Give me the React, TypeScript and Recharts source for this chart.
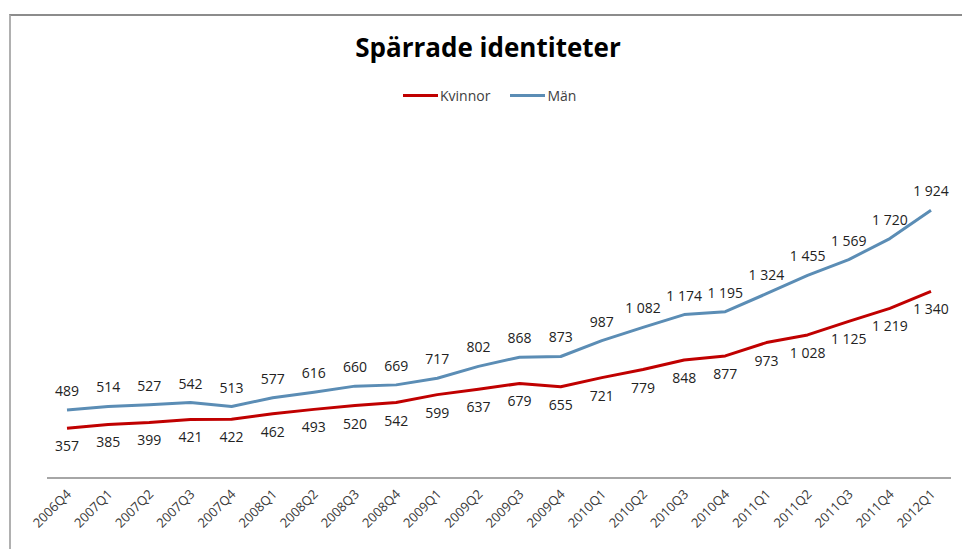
import { LineChart, Line, XAxis, YAxis, LabelList, Legend } from "recharts";

const categories = [
  "2006Q4", "2007Q1", "2007Q2", "2007Q3", "2007Q4", "2008Q1", "2008Q2", "2008Q3",
  "2008Q4", "2009Q1", "2009Q2", "2009Q3", "2009Q4", "2010Q1", "2010Q2", "2010Q3",
  "2010Q4", "2011Q1", "2011Q2", "2011Q3", "2011Q4", "2012Q1",
];
const kvinnor = [
  357, 385, 399, 421, 422, 462, 493, 520, 542, 599, 637, 679, 655, 721, 779, 848,
  877, 973, 1028, 1125, 1219, 1340,
];
const man = [
  489, 514, 527, 542, 513, 577, 616, 660, 669, 717, 802, 868, 873, 987, 1082, 1174,
  1195, 1324, 1455, 1569, 1720, 1924,
];

const data = categories.map((c, i) => ({ period: c, Kvinnor: kvinnor[i], Man: man[i] }));

const RED = "#C00000";
const BLUE = "#5B8DB5";
const FONT = "'Open Sans', 'Noto Sans', sans-serif";

// siffror med mellanslag som tusentalsavgränsare
const fmt = (v: number) => String(v).replace(/\B(?=(\d{3})+(?!\d))/g, " ");

function RotatedTick({ x, y, payload }: any) {
  return (
    <text
      x={x + 5}
      y={y + 9}
      transform={`rotate(-45, ${x + 5}, ${y + 9})`}
      textAnchor="end"
      fontSize={13}
      fill="#3a3a3a"
      fontFamily={FONT}
    >
      {payload.value}
    </text>
  );
}

function makeLabel(dy: number) {
  return ({ x, y, value }: any) => (
    <text
      x={x}
      y={y + dy}
      textAnchor="middle"
      fontSize={14}
      fill="#222"
      fontFamily={FONT}
    >
      {fmt(value)}
    </text>
  );
}

function LegendBox() {
  return (
    <div style={{ display: "flex", gap: 20, fontFamily: FONT, fontSize: 14, color: "#404040" }}>
      <span style={{ display: "flex", alignItems: "center" }}>
        <span style={{ width: 35, height: 3, background: RED, marginRight: 2 }}></span>Kvinnor
      </span>
      <span style={{ display: "flex", alignItems: "center" }}>
        <span style={{ width: 35, height: 3, background: BLUE, marginRight: 2 }}></span>Män
      </span>
    </div>
  );
}

export default function App() {
  return (
    <div style={{ position: "absolute", left: 0, top: 0, width: 962, height: 549, background: "#fff" }}>
      {/* ram uppe och till vänster */}
      <div
        style={{
          position: "absolute",
          left: 9,
          top: 14,
          right: 0,
          bottom: 0,
          borderTop: "2px solid #8c8c8c",
          borderLeft: "2px solid #b0b0b0",
        }}
      ></div>
      <div
        style={{
          position: "absolute",
          top: 29,
          left: 0,
          width: 976,
          textAlign: "center",
          fontFamily: FONT,
          fontWeight: 700,
          fontSize: 26,
          color: "#000",
        }}
      >
        Spärrade identiteter
      </div>
      <LineChart width={962} height={549} data={data} margin={{ top: 111, left: 47, right: 11, bottom: 11 }}>
        <XAxis
          dataKey="period"
          height={60}
          interval={0}
          padding={{ left: 20, right: 20 }}
          tickLine={false}
          axisLine={{ stroke: "#888", strokeWidth: 1.5 }}
          tick={<RotatedTick />}
        />
        <YAxis hide domain={[0, 2500]} />
        <Legend
          verticalAlign="top"
          content={<LegendBox />}
          wrapperStyle={{ top: 86, left: 403, width: "auto" }}
        />
        <Line
          type="linear"
          dataKey="Kvinnor"
          name="Kvinnor"
          stroke={RED}
          strokeWidth={3}
          strokeLinejoin="round"
          dot={false}
          isAnimationActive={false}
        >
          <LabelList dataKey="Kvinnor" content={makeLabel(23)} />
        </Line>
        <Line
          type="linear"
          dataKey="Man"
          name="Män"
          stroke={BLUE}
          strokeWidth={3}
          strokeLinejoin="round"
          dot={false}
          isAnimationActive={false}
        >
          <LabelList dataKey="Man" content={makeLabel(-14)} />
        </Line>
      </LineChart>
    </div>
  );
}
